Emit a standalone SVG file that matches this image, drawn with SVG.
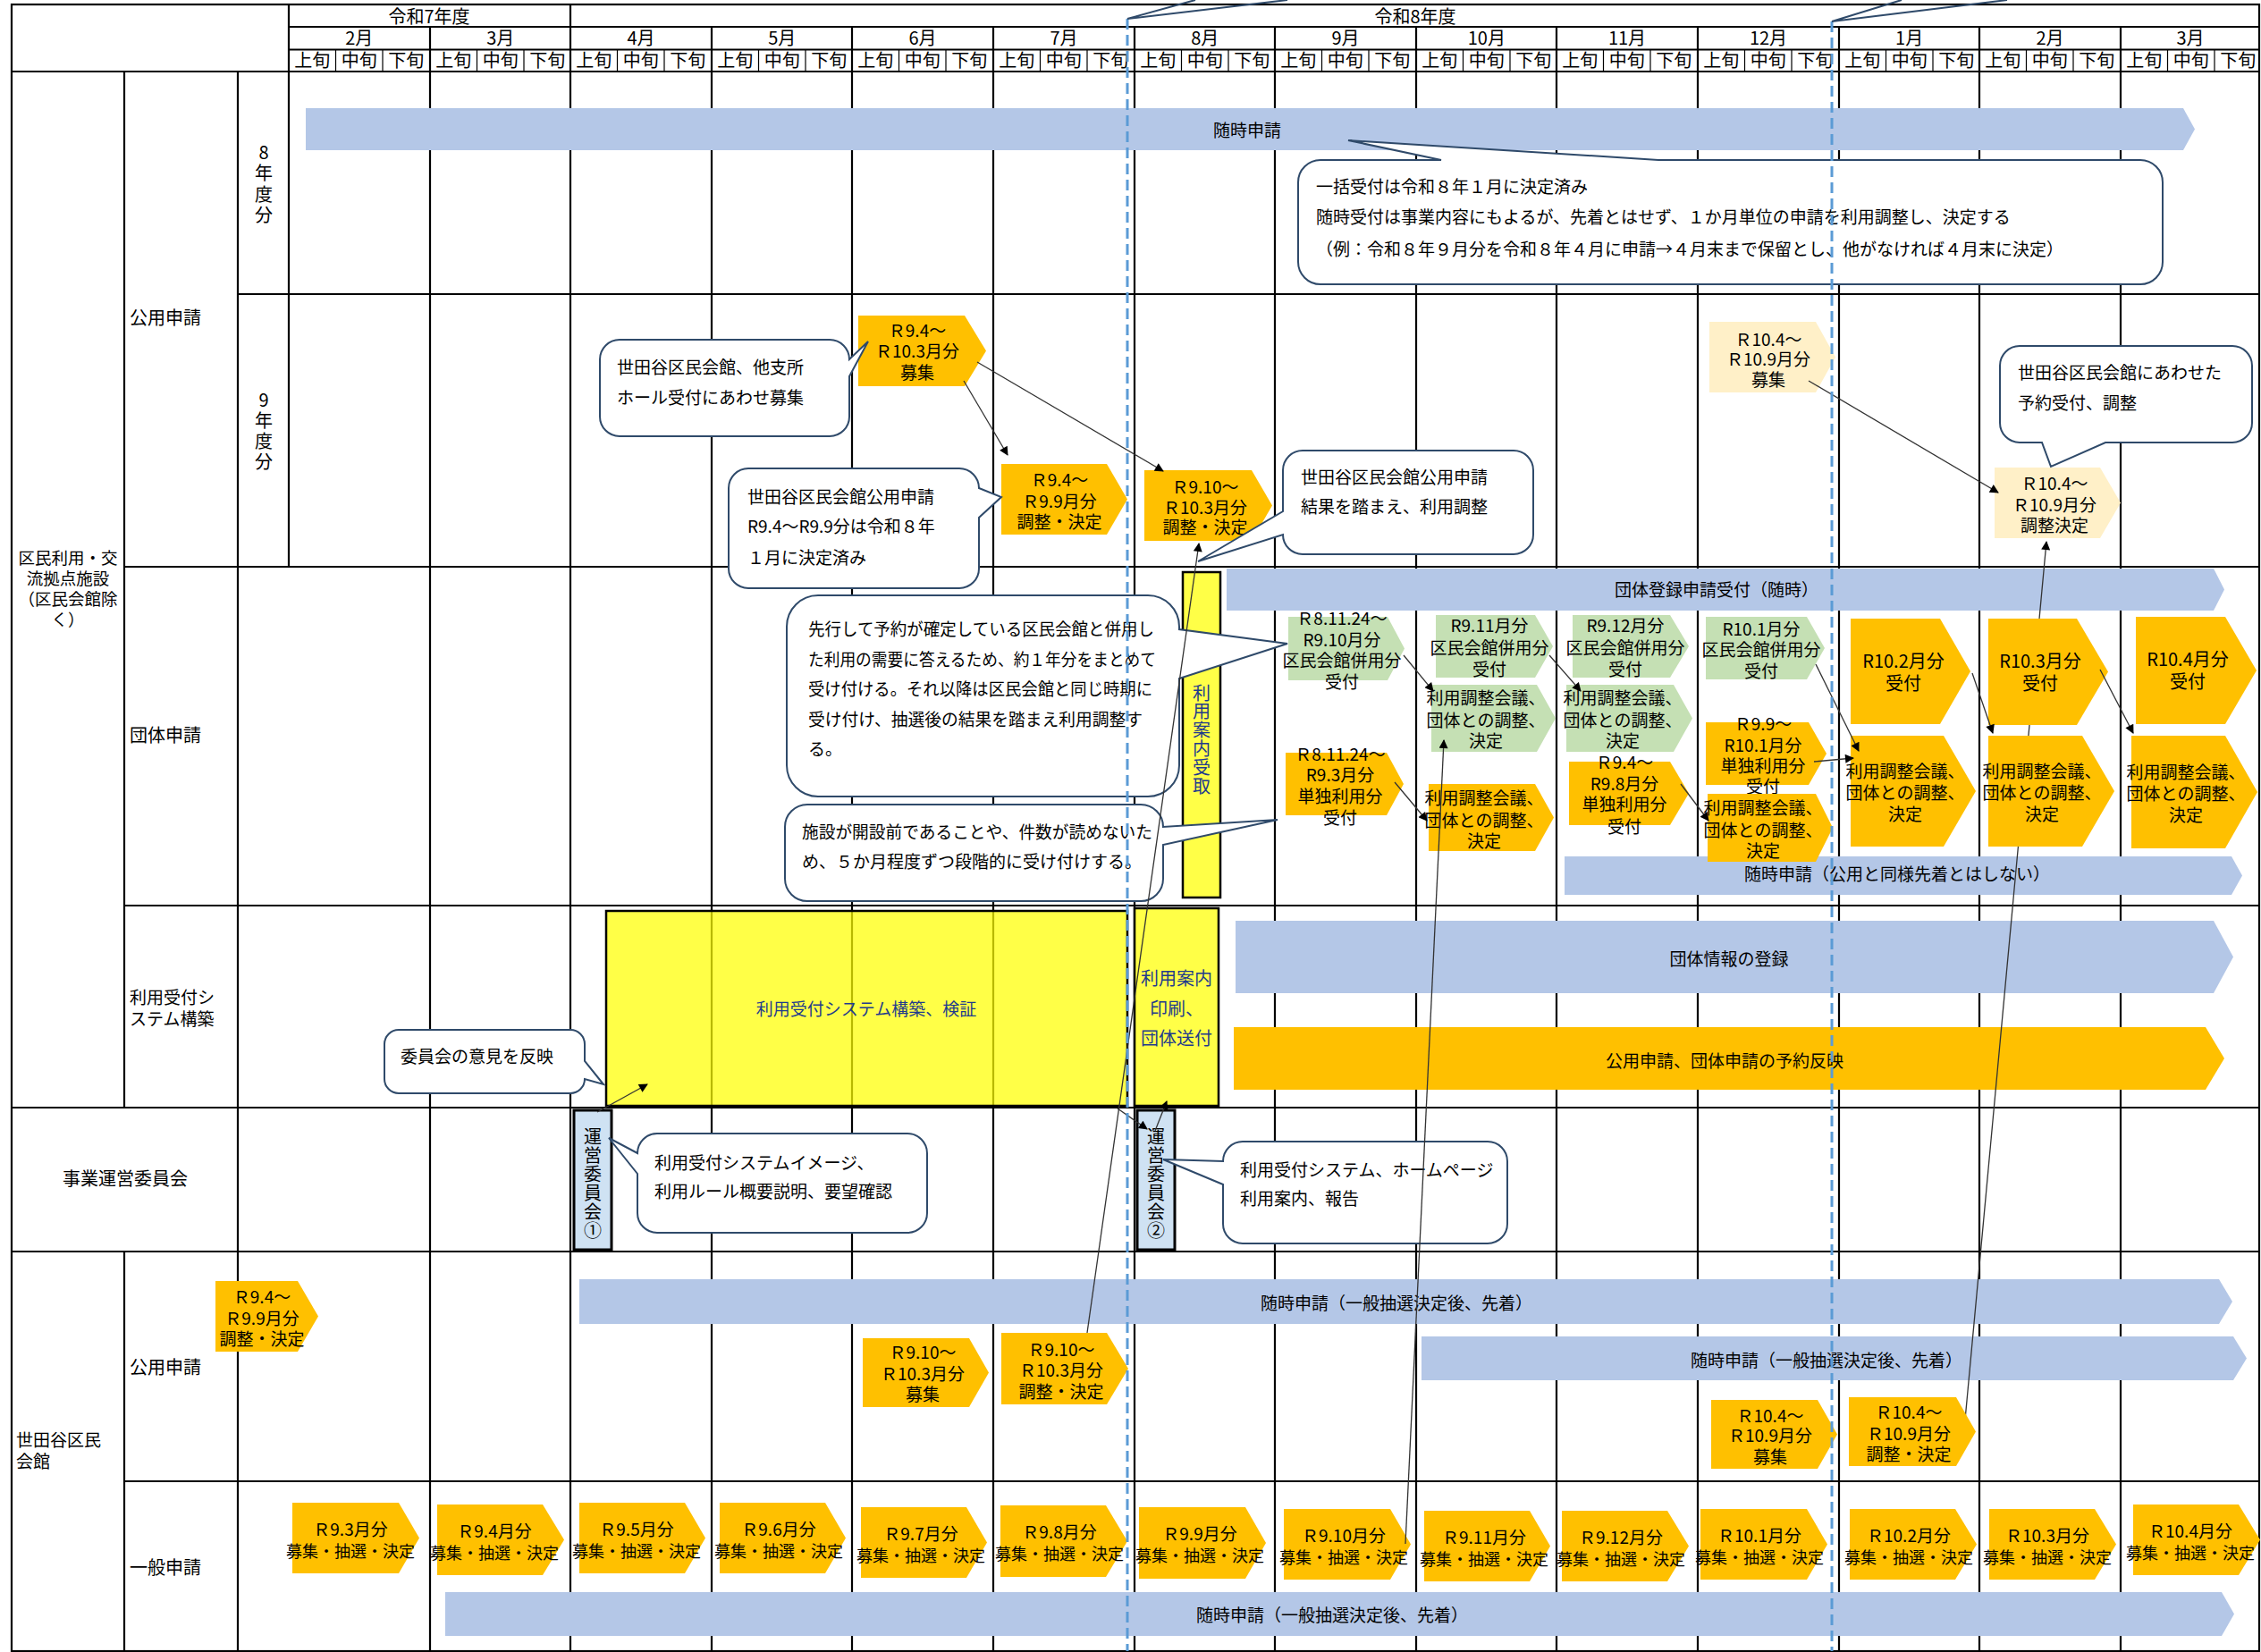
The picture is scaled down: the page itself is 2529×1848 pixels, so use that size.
<svg xmlns="http://www.w3.org/2000/svg" width="2529" height="1848" viewBox="0 0 2529 1848">
<defs>
<style>
.gl{stroke:#000;stroke-width:2.2;fill:none}
.gs{stroke:#000;stroke-width:1.2;fill:none}
.t{font-family:'Noto Sans CJK JP','Noto Sans',sans-serif;font-size:20px;fill:#000}
.c{text-anchor:middle}
.b{font-size:19px}
.k{font-size:18px}
.h{font-size:20px}
.co-t{font-size:19px}
.v{writing-mode:vertical-rl;text-orientation:upright}
.gold{fill:#FFC000}
.blue{fill:#B4C7E7}
.green{fill:#C5E0B4}
.pale{fill:#FFF0C8}
.yel{fill:#FFFF00;fill-opacity:0.72;stroke:#000;stroke-width:2.5}
.com{fill:#CFE2F3;stroke:#000;stroke-width:3}
.co{fill:#fff;stroke:#2F4A6A;stroke-width:2}
.bl{fill:#1F3B8C}
.cn{stroke:#333;stroke-width:1.3;fill:none;marker-end:url(#ah)}
.dash{stroke:#5B9BD5;stroke-width:3;stroke-dasharray:12 6;fill:none}
</style>
<marker id="ah" viewBox="0 0 10 10" refX="9" refY="5" markerWidth="12" markerHeight="10" orient="auto" markerUnits="userSpaceOnUse"><path d="M0,0 L10,5 L0,10 z" fill="#000"/></marker>
</defs>
<rect x="0" y="0" width="2529" height="1848" fill="#fff"/>

<g id="grid">
<rect class="gl" x="13" y="5" width="2514" height="1842"/>
<path class="gl" d="M323,30 H2527 M323,55.5 H2527 M13,80 H2527 M266,329 H2527 M139,634 H2527 M139,1013 H2527 M13,1239 H2527 M13,1400 H2527 M139,1657 H2527"/>
<path class="gl" d="M139,80 V1239 M139,1400 V1847 M266,80 V1847 M323,5 V634 M481,30 V1847 M638,5 V1847 M796,30 V1847 M953,30 V1847 M1111,30 V1847 M1269,30 V1847 M1426,30 V1847 M1584,30 V1847 M1741,30 V1847 M1899,30 V1847 M2057,30 V1847 M2214,30 V1847 M2372,30 V1847"/>
<path class="gs" d="M375.5,55.5 V80 M428,55.5 V80 M533.5,55.5 V80 M586,55.5 V80 M690.5,55.5 V80 M743,55.5 V80 M848.5,55.5 V80 M901,55.5 V80 M1005.5,55.5 V80 M1058,55.5 V80 M1163.5,55.5 V80 M1216,55.5 V80 M1321.5,55.5 V80 M1374,55.5 V80 M1478.5,55.5 V80 M1531,55.5 V80 M1636.5,55.5 V80 M1689,55.5 V80 M1793.5,55.5 V80 M1846,55.5 V80 M1951.5,55.5 V80 M2004,55.5 V80 M2109.5,55.5 V80 M2162,55.5 V80 M2266.5,55.5 V80 M2319,55.5 V80 M2424.5,55.5 V80 M2477,55.5 V80"/>
</g>

<g id="header-text" class="t">
<text class="c" x="480" y="26">令和7年度</text>
<text class="c" x="1583" y="26">令和8年度</text>
<text class="c" y="50"><tspan x="401.8">2月</tspan><tspan x="559.8">3月</tspan><tspan x="717">4月</tspan><tspan x="874.8">5月</tspan><tspan x="1032">6月</tspan><tspan x="1190">7月</tspan><tspan x="1347.8">8月</tspan><tspan x="1505">9月</tspan><tspan x="1662.8">10月</tspan><tspan x="1820">11月</tspan><tspan x="1978">12月</tspan><tspan x="2135.6">1月</tspan><tspan x="2293">2月</tspan><tspan x="2450">3月</tspan></text>
<text class="c h" y="75"><tspan x="349.3">上旬</tspan><tspan x="401.8">中旬</tspan><tspan x="454.3">下旬</tspan><tspan x="507.3">上旬</tspan><tspan x="559.8">中旬</tspan><tspan x="612.3">下旬</tspan><tspan x="664.3">上旬</tspan><tspan x="716.8">中旬</tspan><tspan x="769.3">下旬</tspan><tspan x="822.3">上旬</tspan><tspan x="874.8">中旬</tspan><tspan x="927.3">下旬</tspan><tspan x="979.3">上旬</tspan><tspan x="1031.8">中旬</tspan><tspan x="1084.3">下旬</tspan><tspan x="1137.3">上旬</tspan><tspan x="1189.8">中旬</tspan><tspan x="1242.3">下旬</tspan><tspan x="1295.3">上旬</tspan><tspan x="1347.8">中旬</tspan><tspan x="1400.3">下旬</tspan><tspan x="1452.3">上旬</tspan><tspan x="1504.8">中旬</tspan><tspan x="1557.3">下旬</tspan><tspan x="1610.3">上旬</tspan><tspan x="1662.8">中旬</tspan><tspan x="1715.3">下旬</tspan><tspan x="1767.3">上旬</tspan><tspan x="1819.8">中旬</tspan><tspan x="1872.3">下旬</tspan><tspan x="1925.3">上旬</tspan><tspan x="1977.8">中旬</tspan><tspan x="2030.3">下旬</tspan><tspan x="2083.3">上旬</tspan><tspan x="2135.8">中旬</tspan><tspan x="2188.3">下旬</tspan><tspan x="2240.3">上旬</tspan><tspan x="2292.8">中旬</tspan><tspan x="2345.3">下旬</tspan><tspan x="2398.3">上旬</tspan><tspan x="2450.8">中旬</tspan><tspan x="2503.3">下旬</tspan></text>
</g>

<g id="row-labels" class="t">
<text class="c" style="font-size:18.5px"><tspan x="76" y="631">区民利用・交</tspan><tspan x="76" y="654">流拠点施設</tspan><tspan x="76" y="677">（区民会館除</tspan><tspan x="76" y="700">く）</tspan></text>
<text x="145" y="363">公用申請</text>
<text class="v" x="295" y="160" style="letter-spacing:3.5px">8年度分</text>
<text class="v" x="295" y="437" style="letter-spacing:3.3px">9年度分</text>
<text x="145" y="830">団体申請</text>
<text style="font-size:19px"><tspan x="145" y="1123">利用受付シ</tspan><tspan x="145" y="1147">ステム構築</tspan></text>
<text class="c" x="140" y="1326">事業運営委員会</text>
<text style="font-size:19px"><tspan x="18" y="1618">世田谷区民</tspan><tspan x="18" y="1642">会館</tspan></text>
<text x="145" y="1537">公用申請</text>
<text x="145" y="1761">一般申請</text>
</g>

<g id="bands" class="t">
<g id="band-zuiji-8"><polygon class="blue" points="342,121 2442,121 2455,144.5 2442,168 342,168"/><text class="c b" x="1395" y="153">随時申請</text></g>
<g id="band-dantai-toroku"><polygon class="blue" points="1372,636 2476,636 2488,659.5 2476,683 1372,683"/><text class="c b" x="1920" y="667">団体登録申請受付（随時）</text></g>
<g id="band-zuiji-dantai"><polygon class="blue" points="1750,958 2496,958 2508,979.5 2496,1001 1750,1001"/><text class="c b" x="2122" y="985">随時申請（公用と同様先着とはしない）</text></g>
<g id="band-dantai-joho"><polygon class="blue" points="1382,1030 2476,1030 2498,1070.5 2476,1111 1382,1111"/><text class="c b" x="1934" y="1080">団体情報の登録</text></g>
<g id="band-yoyaku"><polygon class="gold" points="1380,1149 2467,1149 2488,1184 2467,1219 1380,1219"/><text class="c b" x="1929" y="1194">公用申請、団体申請の予約反映</text></g>
<g id="band-setagaya-1"><polygon class="blue" points="648,1431 2482,1431 2497,1456 2482,1481 648,1481"/><text class="c b" x="1562" y="1465">随時申請（一般抽選決定後、先着）</text></g>
<g id="band-setagaya-2"><polygon class="blue" points="1590,1495 2498,1495 2513,1519.5 2498,1544 1590,1544"/><text class="c b" x="2043" y="1529">随時申請（一般抽選決定後、先着）</text></g>
<g id="band-ippan"><polygon class="blue" points="498,1781 2485,1781 2499,1805.5 2485,1830 498,1830"/><text class="c b" x="1490" y="1814">随時申請（一般抽選決定後、先着）</text></g>
</g>

<g id="connector-back">
<line class="cn" x1="2196" y1="1610" x2="2289" y2="606"/>
</g>

<g id="nodes" class="t">
<g id="p1"><polygon class="gold" points="960,353 1079,353 1103,392.5 1079,432 960,432"/><text class="c b"><tspan x="1026" y="377">Ｒ9.4～</tspan><tspan x="1026" y="400">Ｒ10.3月分</tspan><tspan x="1026" y="424">募集</tspan></text></g>
<g id="p2"><polygon class="gold" points="1120,519 1238,519 1261,558.5 1238,598 1120,598"/><text class="c b"><tspan x="1185" y="544">Ｒ9.4～</tspan><tspan x="1185" y="568">Ｒ9.9月分</tspan><tspan x="1185" y="591">調整・決定</tspan></text></g>
<g id="p3"><polygon class="gold" points="1280,526 1400,526 1423,565.5 1400,605 1280,605"/><text class="c b"><tspan x="1348" y="552">Ｒ9.10～</tspan><tspan x="1348" y="575">Ｒ10.3月分</tspan><tspan x="1348" y="597">調整・決定</tspan></text></g>
<g id="p4"><polygon class="pale" points="1912,360 2031,360 2053,399.5 2031,439 1912,439"/><text class="c b"><tspan x="1978" y="387">Ｒ10.4～</tspan><tspan x="1978" y="409">Ｒ10.9月分</tspan><tspan x="1978" y="432">募集</tspan></text></g>
<g id="p5"><polygon class="pale" points="2231,523 2349,523 2372,562.5 2349,602 2231,602"/><text class="c b"><tspan x="2298" y="548">Ｒ10.4～</tspan><tspan x="2298" y="572">Ｒ10.9月分</tspan><tspan x="2298" y="595">調整決定</tspan></text></g>

<g id="g1"><polygon class="green" points="1441,690 1552,690 1571,725.5 1552,761 1441,761"/><text class="c b"><tspan x="1501" y="699">Ｒ8.11.24～</tspan><tspan x="1501" y="723">R9.10月分</tspan><tspan x="1501" y="746">区民会館併用分</tspan><tspan x="1501" y="770">受付</tspan></text></g>
<g id="g2"><polygon class="green" points="1606,688 1717,688 1737,723 1717,758 1606,758"/><text class="c b"><tspan x="1666" y="707">R9.11月分</tspan><tspan x="1666" y="732">区民会館併用分</tspan><tspan x="1666" y="756">受付</tspan></text></g>
<g id="g3"><polygon class="green" points="1759,688 1868,688 1889,723 1868,758 1759,758"/><text class="c b"><tspan x="1818" y="707">R9.12月分</tspan><tspan x="1818" y="732">区民会館併用分</tspan><tspan x="1818" y="756">受付</tspan></text></g>
<g id="g4"><polygon class="green" points="1908,690 2021,690 2041,725 2021,760 1908,760"/><text class="c b"><tspan x="1970" y="711">R10.1月分</tspan><tspan x="1970" y="734">区民会館併用分</tspan><tspan x="1970" y="758">受付</tspan></text></g>
<g id="g5"><polygon class="green" points="1601,766 1719,766 1740,803.5 1719,841 1601,841"/><text class="c b"><tspan x="1662" y="788">利用調整会議、</tspan><tspan x="1662" y="813">団体との調整、</tspan><tspan x="1662" y="836">決定</tspan></text></g>
<g id="g6"><polygon class="green" points="1752,766 1872,766 1893,803.5 1872,841 1752,841"/><text class="c b"><tspan x="1815" y="788">利用調整会議、</tspan><tspan x="1815" y="813">団体との調整、</tspan><tspan x="1815" y="836">決定</tspan></text></g>
<g id="o1"><polygon class="gold" points="1438,842 1551,842 1570,877 1551,912 1438,912"/><text class="c b"><tspan x="1499" y="851">Ｒ8.11.24～</tspan><tspan x="1499" y="874">R9.3月分</tspan><tspan x="1499" y="898">単独利用分</tspan><tspan x="1499" y="922">受付</tspan></text></g>
<g id="o2"><polygon class="gold" points="1598,877 1717,877 1738,914.5 1717,952 1598,952"/><text class="c b"><tspan x="1660" y="900">利用調整会議、</tspan><tspan x="1660" y="925">団体との調整、</tspan><tspan x="1660" y="948">決定</tspan></text></g>
<g id="o3"><polygon class="gold" points="1755,852 1868,852 1889,887.5 1868,923 1755,923"/><text class="c b"><tspan x="1817" y="860">Ｒ9.4～</tspan><tspan x="1817" y="884">R9.8月分</tspan><tspan x="1817" y="907">単独利用分</tspan><tspan x="1817" y="932">受付</tspan></text></g>
<g id="o4"><polygon class="gold" points="1908,808 2023,808 2043,843 2023,878 1908,878"/><text class="c b"><tspan x="1972" y="817">Ｒ9.9～</tspan><tspan x="1972" y="841">R10.1月分</tspan><tspan x="1972" y="864">単独利用分</tspan><tspan x="1972" y="887">受付</tspan></text></g>
<g id="o5"><polygon class="gold" points="1910,888 2031,888 2050,926 2031,964 1910,964"/><text class="c b"><tspan x="1972" y="911">利用調整会議、</tspan><tspan x="1972" y="936">団体との調整、</tspan><tspan x="1972" y="959">決定</tspan></text></g>
<g id="o6"><polygon class="gold" points="2070,692 2170,692 2204,751 2170,810 2070,810"/><text class="c" style="font-size:20px"><tspan x="2129" y="747">R10.2月分</tspan><tspan x="2129" y="772">受付</tspan></text></g>
<g id="o7"><polygon class="gold" points="2224,692 2323,692 2358,751.5 2323,811 2224,811"/><text class="c" style="font-size:20px"><tspan x="2282" y="747">R10.3月分</tspan><tspan x="2282" y="772">受付</tspan></text></g>
<g id="o8"><polygon class="gold" points="2389,690 2489,690 2524,750 2489,810 2389,810"/><text class="c" style="font-size:20px"><tspan x="2447" y="745">R10.4月分</tspan><tspan x="2447" y="770">受付</tspan></text></g>
<g id="o9"><polygon class="gold" points="2070,823 2174,823 2210,885 2174,947 2070,947"/><text class="c b"><tspan x="2131" y="870">利用調整会議、</tspan><tspan x="2131" y="894">団体との調整、</tspan><tspan x="2131" y="918">決定</tspan></text></g>
<g id="o10"><polygon class="gold" points="2224,823 2329,823 2365,885 2329,947 2224,947"/><text class="c b"><tspan x="2284" y="870">利用調整会議、</tspan><tspan x="2284" y="894">団体との調整、</tspan><tspan x="2284" y="918">決定</tspan></text></g>
<g id="o11"><polygon class="gold" points="2384,823 2489,823 2525,886 2489,949 2384,949"/><text class="c b"><tspan x="2445" y="871">利用調整会議、</tspan><tspan x="2445" y="895">団体との調整、</tspan><tspan x="2445" y="919">決定</tspan></text></g>

<g id="s1"><polygon class="gold" points="241,1433 333,1433 356,1472.5 333,1512 241,1512"/><text class="c b"><tspan x="293" y="1458">Ｒ9.4～</tspan><tspan x="293" y="1482">Ｒ9.9月分</tspan><tspan x="293" y="1505">調整・決定</tspan></text></g>
<g id="s2"><polygon class="gold" points="965,1497 1084,1497 1106,1535.5 1084,1574 965,1574"/><text class="c b"><tspan x="1032" y="1520">Ｒ9.10～</tspan><tspan x="1032" y="1544">Ｒ10.3月分</tspan><tspan x="1032" y="1567">募集</tspan></text></g>
<g id="s3"><polygon class="gold" points="1120,1491 1238,1491 1262,1531 1238,1571 1120,1571"/><text class="c b"><tspan x="1187" y="1517">Ｒ9.10～</tspan><tspan x="1187" y="1540">Ｒ10.3月分</tspan><tspan x="1187" y="1564">調整・決定</tspan></text></g>
<g id="s4"><polygon class="gold" points="1914,1566 2033,1566 2055,1604.5 2033,1643 1914,1643"/><text class="c b"><tspan x="1980" y="1591">Ｒ10.4～</tspan><tspan x="1980" y="1613">Ｒ10.9月分</tspan><tspan x="1980" y="1637">募集</tspan></text></g>
<g id="s5"><polygon class="gold" points="2068,1563 2188,1563 2210,1601.5 2188,1640 2068,1640"/><text class="c b"><tspan x="2135" y="1587">Ｒ10.4～</tspan><tspan x="2135" y="1611">Ｒ10.9月分</tspan><tspan x="2135" y="1634">調整・決定</tspan></text></g>

<g id="k1"><polygon class="gold" points="327,1681 446,1681 469,1720.5 446,1760 327,1760"/><text class="c b"><tspan x="392" y="1718">Ｒ9.3月分</tspan><tspan class="k" x="392" y="1742">募集・抽選・決定</tspan></text></g>
<g id="k2"><polygon class="gold" points="489,1683 607,1683 631,1722.5 607,1762 489,1762"/><text class="c b"><tspan x="553" y="1720">Ｒ9.4月分</tspan><tspan class="k" x="553" y="1744">募集・抽選・決定</tspan></text></g>
<g id="k3"><polygon class="gold" points="648,1681 766,1681 789,1720.5 766,1760 648,1760"/><text class="c b"><tspan x="712" y="1718">Ｒ9.5月分</tspan><tspan class="k" x="712" y="1742">募集・抽選・決定</tspan></text></g>
<g id="k4"><polygon class="gold" points="805,1681 923,1681 946,1720.5 923,1760 805,1760"/><text class="c b"><tspan x="871" y="1718">Ｒ9.6月分</tspan><tspan class="k" x="871" y="1742">募集・抽選・決定</tspan></text></g>
<g id="k5"><polygon class="gold" points="963,1686 1081,1686 1104,1725.5 1081,1765 963,1765"/><text class="c b"><tspan x="1030" y="1723">Ｒ9.7月分</tspan><tspan class="k" x="1030" y="1747">募集・抽選・決定</tspan></text></g>
<g id="k6"><polygon class="gold" points="1119,1684 1237,1684 1261,1724 1237,1764 1119,1764"/><text class="c b"><tspan x="1185" y="1721">Ｒ9.8月分</tspan><tspan class="k" x="1185" y="1745">募集・抽選・決定</tspan></text></g>
<g id="k7"><polygon class="gold" points="1274,1686 1393,1686 1416,1726 1393,1766 1274,1766"/><text class="c b"><tspan x="1342" y="1723">Ｒ9.9月分</tspan><tspan class="k" x="1342" y="1747">募集・抽選・決定</tspan></text></g>
<g id="k8"><polygon class="gold" points="1436,1688 1555,1688 1578,1727.5 1555,1767 1436,1767"/><text class="c b"><tspan x="1503" y="1725">Ｒ9.10月分</tspan><tspan class="k" x="1503" y="1749">募集・抽選・決定</tspan></text></g>
<g id="k9"><polygon class="gold" points="1593,1690 1711,1690 1734,1729.5 1711,1769 1593,1769"/><text class="c b"><tspan x="1660" y="1727">Ｒ9.11月分</tspan><tspan class="k" x="1660" y="1751">募集・抽選・決定</tspan></text></g>
<g id="k10"><polygon class="gold" points="1747,1690 1865,1690 1889,1729.5 1865,1769 1747,1769"/><text class="c b"><tspan x="1813" y="1727">Ｒ9.12月分</tspan><tspan class="k" x="1813" y="1751">募集・抽選・決定</tspan></text></g>
<g id="k11"><polygon class="gold" points="1902,1688 2021,1688 2044,1727.5 2021,1767 1902,1767"/><text class="c b"><tspan x="1968" y="1725">Ｒ10.1月分</tspan><tspan class="k" x="1968" y="1749">募集・抽選・決定</tspan></text></g>
<g id="k12"><polygon class="gold" points="2069,1688 2187,1688 2211,1727.5 2187,1767 2069,1767"/><text class="c b"><tspan x="2135" y="1725">Ｒ10.2月分</tspan><tspan class="k" x="2135" y="1749">募集・抽選・決定</tspan></text></g>
<g id="k13"><polygon class="gold" points="2225,1688 2343,1688 2367,1727.5 2343,1767 2225,1767"/><text class="c b"><tspan x="2290" y="1725">Ｒ10.3月分</tspan><tspan class="k" x="2290" y="1749">募集・抽選・決定</tspan></text></g>
<g id="k14"><polygon class="gold" points="2386,1683 2504,1683 2528,1722.5 2504,1762 2386,1762"/><text class="c b"><tspan x="2450" y="1720">Ｒ10.4月分</tspan><tspan class="k" x="2450" y="1744">募集・抽選・決定</tspan></text></g>

<g id="y1"><rect class="yel" x="678" y="1019" width="583" height="218"/><text class="c bl" x="969" y="1136" style="font-size:19px">利用受付システム構築、検証</text></g>
<g id="y2"><rect class="yel" x="1323" y="640" width="42" height="364"/><text class="v bl" x="1344" y="765" style="letter-spacing:0.8px">利用案内受取</text></g>
<g id="y3"><rect class="yel" x="1269" y="1016" width="94" height="221"/><text class="c bl"><tspan x="1316" y="1102">利用案内</tspan><tspan x="1316" y="1136">印刷、</tspan><tspan x="1316" y="1169">団体送付</tspan></text></g>
<g id="iinkai-1"><rect class="com" x="642" y="1242" width="42" height="156"/><text class="v" x="663" y="1261" style="letter-spacing:1px">運営委員会①</text></g>
<g id="iinkai-2"><rect class="com" x="1272" y="1242" width="42" height="156"/><text class="v" x="1293" y="1261" style="letter-spacing:1px">運営委員会②</text></g>
</g>

<g id="callouts" class="t">
<g id="c1"><path class="co" d="M1477,179 H1612 L1508,157 L1855,179 H2394 A25,25 0 0 1 2419,204 V293 A25,25 0 0 1 2394,318 H1477 A25,25 0 0 1 1452,293 V204 A25,25 0 0 1 1477,179 Z"/><text class="co-t"><tspan x="1472" y="216">一括受付は令和８年１月に決定済み</tspan><tspan x="1472" y="250">随時受付は事業内容にもよるが、先着とはせず、１か月単位の申請を利用調整し、決定する</tspan><tspan x="1472" y="286">（例：令和８年９月分を令和８年４月に申請→４月末まで保留とし、他がなければ４月末に決定）</tspan></text></g>
<g id="c2"><path class="co" d="M693,380 H928 A22,22 0 0 1 950,402 L971,382 L950,421 V466 A22,22 0 0 1 928,488 H693 A22,22 0 0 1 671,466 V402 A22,22 0 0 1 693,380 Z"/><text class="co-t"><tspan x="690" y="418">世田谷区民会館、他支所</tspan><tspan x="690" y="452">ホール受付にあわせ募集</tspan></text></g>
<g id="c3"><path class="co" d="M837,524 H1073 A22,22 0 0 1 1095,546 L1120,556 L1095,579 V636 A22,22 0 0 1 1073,658 H837 A22,22 0 0 1 815,636 V546 A22,22 0 0 1 837,524 Z"/><text class="co-t"><tspan x="836" y="563">世田谷区民会館公用申請</tspan><tspan x="836" y="596">R9.4～R9.9分は令和８年</tspan><tspan x="836" y="631">１月に決定済み</tspan></text></g>
<g id="c4"><path class="co" d="M1457,504 H1693 A22,22 0 0 1 1715,526 V598 A22,22 0 0 1 1693,620 H1457 A22,22 0 0 1 1435,598 L1340,628 L1435,572 V526 A22,22 0 0 1 1457,504 Z"/><text class="co-t"><tspan x="1455" y="541">世田谷区民会館公用申請</tspan><tspan x="1455" y="574">結果を踏まえ、利用調整</tspan></text></g>
<g id="c5"><path class="co" d="M2259,387 H2497 A22,22 0 0 1 2519,409 V473 A22,22 0 0 1 2497,495 H2355 L2294,522 L2284,495 H2259 A22,22 0 0 1 2237,473 V409 A22,22 0 0 1 2259,387 Z"/><text class="co-t"><tspan x="2257" y="424">世田谷区民会館にあわせた</tspan><tspan x="2257" y="458">予約受付、調整</tspan></text></g>
<g id="c6"><path class="co" d="M915,666 H1284 A35,35 0 0 1 1319,701 V704 L1440,720 L1319,759 V856 A35,35 0 0 1 1284,891 H915 A35,35 0 0 1 880,856 V701 A35,35 0 0 1 915,666 Z"/><text class="co-t"><tspan x="904" y="711" textLength="387" lengthAdjust="spacingAndGlyphs">先行して予約が確定している区民会館と併用し</tspan><tspan x="904" y="745" textLength="389" lengthAdjust="spacingAndGlyphs">た利用の需要に答えるため、約１年分をまとめて</tspan><tspan x="904" y="778" textLength="385" lengthAdjust="spacingAndGlyphs">受け付ける。それ以降は区民会館と同じ時期に</tspan><tspan x="904" y="812" textLength="374" lengthAdjust="spacingAndGlyphs">受け付け、抽選後の結果を踏まえ利用調整す</tspan><tspan x="904" y="845">る。</tspan></text></g>
<g id="c7"><path class="co" d="M903,900 H1276 A25,25 0 0 1 1301,925 L1429,917 L1301,945 V983 A25,25 0 0 1 1276,1008 H903 A25,25 0 0 1 878,983 V925 A25,25 0 0 1 903,900 Z"/><text class="co-t"><tspan x="897" y="938" textLength="392" lengthAdjust="spacingAndGlyphs">施設が開設前であることや、件数が読めないた</tspan><tspan x="897" y="971">め、５か月程度ずつ段階的に受け付けする。</tspan></text></g>
<g id="c8"><path class="co" d="M446,1152 H638 A16,16 0 0 1 654,1168 V1187 L675,1213 L654,1207 A16,16 0 0 1 638,1223 H446 A16,16 0 0 1 430,1207 V1168 A16,16 0 0 1 446,1152 Z"/><text class="co-t" x="448" y="1189">委員会の意見を反映</text></g>
<g id="c9"><path class="co" d="M735,1268 H1015 A22,22 0 0 1 1037,1290 V1357 A22,22 0 0 1 1015,1379 H735 A22,22 0 0 1 713,1357 V1313 L681,1273 L713,1290 A22,22 0 0 1 735,1268 Z"/><text class="co-t"><tspan x="732" y="1308">利用受付システムイメージ、</tspan><tspan x="732" y="1340">利用ルール概要説明、要望確認</tspan></text></g>
<g id="c10"><path class="co" d="M1390,1277 H1664 A22,22 0 0 1 1686,1299 V1369 A22,22 0 0 1 1664,1391 H1390 A22,22 0 0 1 1368,1369 V1325 L1301,1297 L1368,1299 A22,22 0 0 1 1390,1277 Z"/><text class="co-t"><tspan x="1387" y="1316">利用受付システム、ホームページ</tspan><tspan x="1387" y="1348">利用案内、報告</tspan></text></g>
</g>

<g id="connectors">
<line class="cn" x1="1078" y1="426" x2="1127" y2="509"/>
<line class="cn" x1="1093" y1="405" x2="1301" y2="527"/>
<line class="cn" x1="2023" y1="426" x2="2235" y2="551"/>
<line class="cn" x1="1216" y1="1491" x2="1341" y2="608"/>
<line class="cn" x1="1572" y1="1727" x2="1615" y2="828"/>
<line class="cn" x1="1570" y1="733" x2="1603" y2="773"/>
<line class="cn" x1="1733" y1="733" x2="1768" y2="773"/>
<line class="cn" x1="1560" y1="875" x2="1596" y2="918"/>
<line class="cn" x1="1880" y1="877" x2="1911" y2="918"/>
<line class="cn" x1="2031" y1="743" x2="2079" y2="840"/>
<line class="cn" x1="2029" y1="852" x2="2073" y2="848"/>
<line class="cn" x1="2206" y1="753" x2="2229" y2="820"/>
<line class="cn" x1="2349" y1="749" x2="2386" y2="820"/>
<line class="cn" x1="668" y1="1244" x2="724" y2="1213"/>
<line class="cn" x1="1250" y1="1240" x2="1283" y2="1263"/>
<line class="cn" x1="1292" y1="1265" x2="1305" y2="1232"/>
</g>

<g id="period-lines">
<line class="dash" x1="1261" y1="21" x2="1261" y2="1847"/>
<line class="dash" x1="2049" y1="24" x2="2049" y2="1847"/>
<polyline points="1337,0 1261,21 1440,0" fill="none" stroke="#2F4A6A" stroke-width="2"/>
<polyline points="2127,0 2049,24 2245,0" fill="none" stroke="#2F4A6A" stroke-width="2"/>
</g>
</svg>
